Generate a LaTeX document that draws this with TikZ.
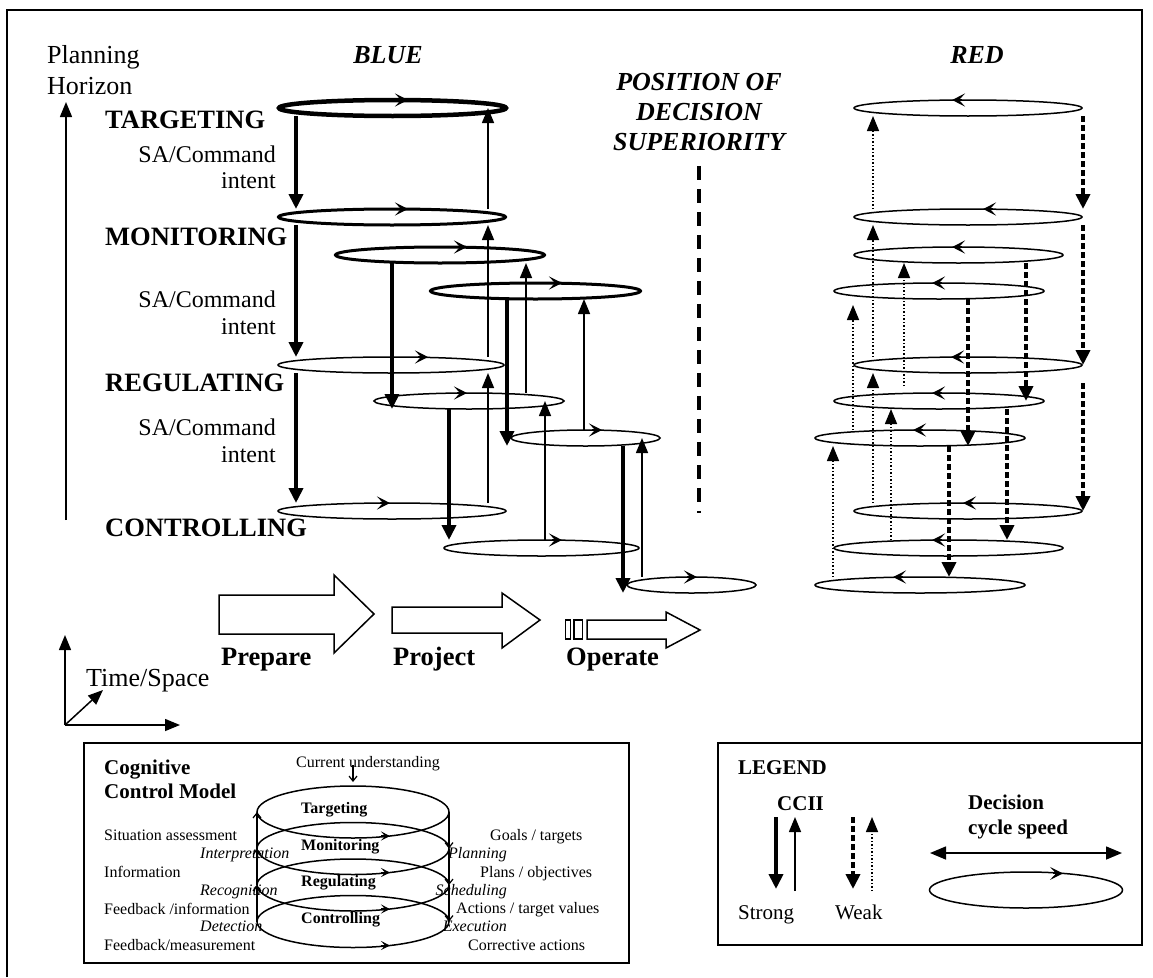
\documentclass[tikz,border=0pt]{standalone}
\usepackage{fontspec}
\setmainfont{Liberation Serif}
\usetikzlibrary{arrows.meta,shapes.geometric,calc}
\tikzset{
  cyc/.style={ellipse, draw, inner sep=0pt, outer sep=0pt, minimum height=16pt, line width=1.5pt},
  cycheavy/.style={cyc, line width=4.5pt},
  cycmid/.style={cyc, line width=3pt},
  spin/.style={line width=1.5pt, -{Stealth[length=13pt,width=13pt,inset=6pt]}},
  spinsmall/.style={line width=1.2pt, -{Stealth[length=9pt,width=9pt,inset=4pt]}},
  strongdown/.style={line width=4pt, -{Triangle[length=15pt,width=14pt]}},
  strongup/.style={line width=1.5pt, -{Triangle[length=15pt,width=12pt]}},
  weakdown/.style={line width=4pt, dash pattern=on 6pt off 3pt, -{Triangle[length=15pt,width=14pt]}},
  weakup/.style={line width=1.5pt, dash pattern=on 1.5pt off 2pt, -{Triangle[length=15pt,width=12pt]}},
  level/.style={font=\fontsize{26.5}{30}\selectfont\bfseries, inner sep=0pt, anchor=base west},
  side/.style={font=\fontsize{26}{30}\selectfont\bfseries\itshape, inner sep=0pt},
  intent/.style={font=\fontsize{24}{26.6}\selectfont, inner sep=0pt, align=right, anchor=north east},
  small/.style={font=\fontsize{16}{19}\selectfont, inner sep=0pt},
  smallit/.style={font=\fontsize{16}{19}\selectfont\itshape, inner sep=0pt},
  smallbf/.style={font=\fontsize{16}{19}\selectfont\bfseries, inner sep=0pt, anchor=base west},
  phase/.style={font=\fontsize{26.5}{30}\selectfont\bfseries, inner sep=0pt, anchor=base west},
  axis/.style={line width=1.5pt, -{Triangle[length=15pt,width=12pt]}},
  frame/.style={line width=2pt},
  bigarrow/.style={draw, line width=1.5pt, fill=white, line join=miter},
  barb/.style={line width=1.2pt, -{Straight Barb[length=5pt,width=8pt]}},
  legtxt/.style={font=\fontsize{21}{24.5}\selectfont, inner sep=0pt},
  legbf/.style={font=\fontsize{21}{24.5}\selectfont\bfseries, inner sep=0pt},
  posline/.style={line width=3.5pt, dash pattern=on 14pt off 9pt},
}
% clockwise / anticlockwise direction marks on the top edge of a cycle
\newcommand\cwtick[2]{\draw[spin] ($(#1.north)+(#2-10,0)$) -- ($(#1.north)+(#2,0)$);}
\newcommand\ccwtick[2]{\draw[spin] ($(#1.north)+(#2+10,0)$) -- ($(#1.north)+(#2,0)$);}

\begin{document}
\begin{tikzpicture}[x=1pt,y=-1pt]
\useasboundingbox (0,0) rectangle (1153,977);
\fill[white] (0,0) rectangle (1153,977);

% outer frame
\draw[frame] (7,977) -- (7,9.5) -- (1142,9.5) -- (1142,743);

% planning horizon axis
\node[font=\fontsize{26}{30.6}\selectfont, inner sep=0pt, align=left, anchor=north west] (ph) at (47,45.5) {Planning\\Horizon};
\coordinate (phbot) at (66,520);
\coordinate (phtop) at (66,102);
\draw[axis] (phbot) -- (phtop);

% titles
\node[side, anchor=base] (blue) at (388,63) {BLUE};
\node[side, anchor=base] (red) at (977,63) {RED};
\node[side, align=center, anchor=north] (pos) at (699,73) {POSITION OF\\DECISION\\SUPERIORITY};
\coordinate (posend) at (699,513);
\draw[posline, shorten <=15pt] (pos.south) -- (posend);

% level names
\node[level] (tg) at (105,128) {TARGETING};
\node[level] (mo) at (105,245.7) {MONITORING};
\node[level] (rg) at (105,391) {REGULATING};
\node[level] (ct) at (105,536.7) {CONTROLLING};
\node[intent] (i1) at (276,145.5) {SA/Command\\intent};
\node[intent] (i2) at (276,291) {SA/Command\\intent};
\node[intent] (i3) at (276,418.6) {SA/Command\\intent};

% BLUE decision cycles
\node[cycheavy, minimum width=227pt] (E1) at (392.5,108) {};
\node[cycmid, minimum width=227pt] (E2) at (392,217) {};
\node[cycmid, minimum width=209pt] (E3) at (440,255) {};
\node[cycmid, minimum width=210pt] (E4) at (535.5,291) {};
\node[cyc, minimum width=226pt] (E5) at (391,365) {};
\node[cyc, minimum width=190pt] (E6) at (469,401) {};
\node[cyc, minimum width=149pt] (E7) at (585.5,438) {};
\node[cyc, minimum width=228pt] (E8) at (392,511) {};
\node[cyc, minimum width=195pt] (E9) at (541.5,548) {};
\node[cyc, minimum width=129pt] (E10) at (691.5,585) {};
\cwtick{E1}{15.5}
\cwtick{E2}{16}
\cwtick{E3}{27}
\cwtick{E4}{26.5}
\cwtick{E5}{37}
\cwtick{E6}{-2}
\cwtick{E7}{16.5}
\cwtick{E8}{-2}
\cwtick{E9}{20.5}
\cwtick{E10}{5.5}

% BLUE columns
\coordinate (bA) at (296,0);
\coordinate (bB) at (392,0);
\coordinate (bC) at (507,0);
\coordinate (bD) at (449,0);
\coordinate (bE) at (623,0);
\coordinate (tA) at (488,0);
\coordinate (tB) at (526,0);
\coordinate (tC) at (545,0);
\coordinate (tD) at (584,0);
\coordinate (tE) at (642,0);

% BLUE command intent (down) and feedback (up)
\draw[strongdown] (bA |- E1.south) -- (bA |- E2.north);
\draw[strongdown] (bA |- E2.south) -- (bA |- E5.north);
\draw[strongdown] (bA |- E5.south) -- (bA |- E8.north);
\draw[strongdown] (bB |- E3.south) -- (bB |- E6.south);
\draw[strongdown] (bC |- E4.south) -- (bC |- E7.south);
\draw[strongdown] (bD |- E6.south) -- (bD |- E9.north);
\draw[strongdown] (bE |- E7.south) -- (bE |- E10.south);
\draw[strongup] (tA |- E2.north) -- (tA |- E1.center);
\draw[strongup] (tA |- E5.north) -- (tA |- E2.south);
\draw[strongup] (tA |- E8.north) -- (tA |- E5.south);
\draw[strongup] (tB |- E6.north) -- (tB |- E3.south);
\draw[strongup] (tC |- E9.north) -- (tC |- E6.center);
\draw[strongup] (tD |- E7.north) -- (tD |- E4.south);
\draw[strongup] (tE |- E10.north) -- (tE |- E7.center);

% RED decision cycles
\node[cyc, minimum width=228pt] (R1) at (968,108) {};
\node[cyc, minimum width=228pt] (R2) at (968,217) {};
\node[cyc, minimum width=209pt] (R3) at (958.5,255) {};
\node[cyc, minimum width=210pt] (R4) at (939,291) {};
\node[cyc, minimum width=228pt] (R5) at (968,365) {};
\node[cyc, minimum width=210pt] (R6) at (939,401) {};
\node[cyc, minimum width=210pt] (R7) at (920,438) {};
\node[cyc, minimum width=228pt] (R8) at (968,511) {};
\node[cyc, minimum width=229pt] (R9) at (948.5,548) {};
\node[cyc, minimum width=210pt] (R10) at (920,585) {};
\ccwtick{R1}{-16}
\ccwtick{R2}{15}
\ccwtick{R3}{-6.5}
\ccwtick{R4}{-7}
\ccwtick{R5}{-17}
\ccwtick{R6}{-7}
\ccwtick{R7}{-7}
\ccwtick{R8}{-5}
\ccwtick{R9}{-16.5}
\ccwtick{R10}{-27}

% RED columns
\coordinate (rA) at (873,0);
\coordinate (rB) at (904,0);
\coordinate (rC) at (891,0);
\coordinate (rD) at (853,0);
\coordinate (rE) at (833,0);
\coordinate (rF) at (1083,0);
\coordinate (rG) at (1026,0);
\coordinate (rH) at (968,0);
\coordinate (rI) at (1007,0);
\coordinate (rJ) at (949,0);

% RED weak feedback (up) and weak intent (down)
\draw[weakup] (rA |- R2.north) -- (rA |- R1.south);
\draw[weakup] (rA |- R5.north) -- (rA |- R2.south);
\draw[weakup] (rA |- R8.north) -- (rA |- R5.south);
\draw[weakup, shorten <=7pt] (rB |- R6.north) -- (rB |- R3.south);
\draw[weakup] (rC |- R9.north) -- (rC |- R6.south);
\draw[weakup, shorten >=6pt] (rD |- R7.north) -- (rD |- R4.south);
\draw[weakup] (rE |- R10.north) -- (rE |- R7.south);
\draw[weakdown] (rF |- R1.south) -- (rF |- R2.north);
\draw[weakdown] (rF |- R2.south) -- (rF |- R5.center);
\draw[weakdown, shorten <=10pt] (rF |- R5.south) -- (rF |- R8.center);
\draw[weakdown] (rG |- R3.south) -- (rG |- R6.center);
\draw[weakdown] (rH |- R4.south) -- (rH |- R7.south);
\draw[weakdown] (rI |- R6.south) -- (rI |- R9.north);
\draw[weakdown] (rJ |- R7.south) -- (rJ |- R10.north);

% phases
\draw[bigarrow] (219,595) -- (334,595) -- (334,575) -- (374,614) -- (334,653) -- (334,634) -- (219,634) -- cycle;
\draw[bigarrow] (392,607) -- (502,607) -- (502,593) -- (540,620) -- (502,648) -- (502,633) -- (392,633) -- cycle;
\draw[bigarrow] (565.5,620) rectangle (570.5,639);
\draw[bigarrow] (574,620) rectangle (582.5,639);
\draw[bigarrow] (587,620) -- (666,620) -- (666,612) -- (700,630) -- (666,648) -- (666,639) -- (587,639) -- cycle;
\node[phase] (prep) at (221,665) {Prepare};
\node[phase] (proj) at (393,665) {Project};
\node[phase] (oper) at (566,665) {Operate};

% time / space axes
\coordinate (ts0) at (65,725);
\coordinate (tsup) at (65,635);
\coordinate (tsdiag) at (103,690);
\coordinate (tsright) at (180,725);
\draw[axis] (ts0) -- (tsup);
\draw[axis] (ts0) -- (tsdiag);
\draw[axis] (ts0) -- (tsright);
\node[font=\fontsize{26}{30}\selectfont, inner sep=0pt, anchor=base west] (ts) at (86,686) {Time/Space};

% cognitive control model
\draw[frame] (84,743) rectangle (629,963);
\node[legbf, align=left, anchor=north west] (ccm) at (104,759.7) {Cognitive\\Control Model};
\node[cyc, minimum width=192pt, minimum height=52pt] (C1) at (353,812) {};
\node[cyc, minimum width=192pt, minimum height=52pt] (C2) at (353,848.5) {};
\node[cyc, minimum width=192pt, minimum height=52pt] (C3) at (353,885) {};
\node[cyc, minimum width=192pt, minimum height=52pt] (C4) at (353,921.5) {};
\foreach \c in {C1,C2,C3,C4}{
  \draw[spinsmall] ($(\c.south)+(28,-2)$) -- ($(\c.south)+(37,-2)$);
}
\node[smallbf] (ctg) at (301,813.3) {Targeting};
\node[smallbf] (cmo) at (301,850) {Monitoring};
\node[smallbf] (crg) at (301,886.7) {Regulating};
\node[smallbf] (cct) at (301,923.3) {Controlling};
\draw[barb] (C4.west) -- (C3.west);
\draw[barb] (C3.west) -- (C2.west);
\draw[barb] (C2.west) -- (C1.west);
\draw[barb] (C1.east) -- (C2.east);
\draw[barb] (C2.east) -- (C3.east);
\draw[barb] (C3.east) -- (C4.east);
\node[small, anchor=base] (cu) at (368,767.7) {Current understanding};
\coordinate (cutail) at (353,765);
\draw[barb, shorten >=4pt] (cutail) -- (C1.north);

\node[small, anchor=base west] (l1) at (104,840.7) {Situation assessment};
\node[small, anchor=base west] (l2) at (104,877.7) {Information};
\node[small, anchor=base west] (l3) at (104,914) {Feedback /information};
\node[small, anchor=base west] (l4) at (104,950.7) {Feedback/measurement};
\node[smallit, anchor=base west] (p1) at (200,858.3) {Interpretation};
\node[smallit, anchor=base west] (p2) at (200,895) {Recognition};
\node[smallit, anchor=base west] (p3) at (200,931.7) {Detection};
\node[small, anchor=base west] (r1) at (490,840.7) {Goals / targets};
\node[small, anchor=base west] (r2) at (480,877.7) {Plans / objectives};
\node[small, anchor=base west] (r3) at (456,913.7) {Actions / target values};
\node[small, anchor=base west] (r4) at (468,950.3) {Corrective actions};
\node[smallit, anchor=base east] (q1) at (507,858.7) {Planning};
\node[smallit, anchor=base east] (q2) at (507,895.7) {Scheduling};
\node[smallit, anchor=base east] (q3) at (507,931.7) {Execution};

% legend
\draw[frame] (718,743) rectangle (1142,945);
\node[legbf, anchor=base west] (lg) at (738,774) {LEGEND};
\node[legbf, anchor=base west] (cc) at (777,810.7) {CCII};
\node[legtxt, anchor=base west] (st) at (738,919.3) {Strong};
\node[legtxt, anchor=base west] (wk) at (835,919.3) {Weak};
\node[legbf, align=left, anchor=north west] (dc) at (968,795) {Decision\\cycle speed};
\coordinate (sdA) at (776,817);
\coordinate (sdB) at (776,889);
\coordinate (suA) at (795,891);
\coordinate (suB) at (795,817);
\coordinate (wdA) at (853,817);
\coordinate (wdB) at (853,889);
\coordinate (wuA) at (872,891);
\coordinate (wuB) at (872,817);
\draw[strongdown] (sdA) -- (sdB);
\draw[strongup] (suA) -- (suB);
\draw[weakdown] (wdA) -- (wdB);
\draw[weakup] (wuA) -- (wuB);
\coordinate (spL) at (930,853);
\coordinate (spR) at (1122,853);
\draw[line width=1.5pt, {Triangle[length=16pt,width=13pt]}-{Triangle[length=16pt,width=13pt]}] (spL) -- (spR);
\node[cyc, minimum width=193pt, minimum height=36pt] (LE) at (1026,890) {};
\draw[spin] ($(LE.north)+(27,1.4)$) -- ($(LE.north)+(37,1.4)$);
\end{tikzpicture}
\end{document}
